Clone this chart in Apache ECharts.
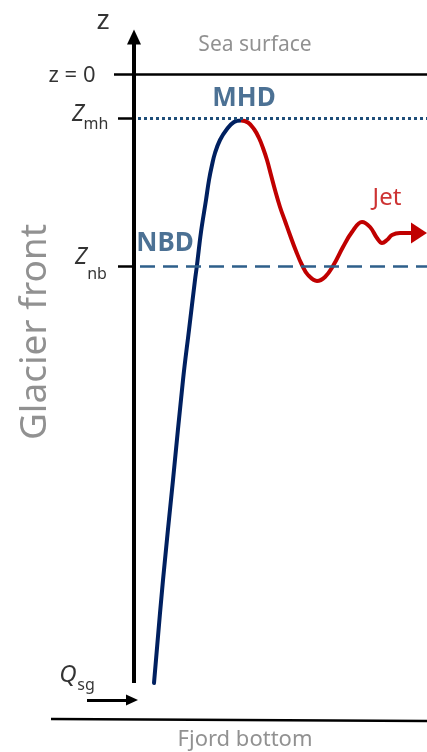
<!DOCTYPE html>
<html><head><meta charset="utf-8">
<script src="https://cdn.jsdelivr.net/npm/echarts@6/dist/echarts.min.js"></script>
<style>html,body{margin:0;padding:0;background:#fff}#c{width:427px;height:752px}</style>
</head><body><div id="c"></div>
<script>
// Coordinate system: x = horizontal distance from the glacier front, z = height relative to the sea surface
const xRange = [-134, 293];
const zRange = [-678, 74];
const zSurface = 0;
const zMh = -44;           // maximum height depth
const zNb = -192;          // neutral buoyancy depth
const frontZ = [-609, 37]; // glacier front / z axis extent
const bottomX = [-83, 293];
const bottomZ = [-645, -647];
// Rising plume (blue) up to the maximum height
const plumeX = [20, 29, 39, 49, 55, 61, 63, 67, 72, 75, 78, 81, 86, 93, 100, 107];
const plumeZ = [-609, -506, -406, -306, -256, -206, -191, -158, -126, -106, -91, -79, -66, -55, -48, -46.5];
// Outflowing jet (red) after the maximum height
const jetX = [114, 120, 125, 129, 133, 137, 141, 146, 151, 156, 162, 168, 174, 183, 191, 199, 209, 218, 228, 236, 243, 248, 253, 258, 266, 278];
const jetZ = [-48.5, -55, -64, -74, -86, -101, -116, -133, -147, -161, -177, -191, -201, -207, -203, -192, -173, -158, -148, -153, -164, -169, -166, -161, -159, -159];
const qsgX = [-47, -2];
const qsgZ = -626;

const FONT = 'Noto Sans';
const GRAY = '#767676', NAVY = '#002060', BLUE = '#1f4e79', RED = '#c00000';

const curve = plumeX.map((x, i) => [x, plumeZ[i]]).concat(jetX.map((x, i) => [x, jetZ[i]]));
const peakX = plumeX[plumeX.length - 1];

function seg(a, b, style, endSymbol, endSize) {
  return [
    { coord: a, symbol: 'none', lineStyle: style },
    { coord: b, symbol: endSymbol || 'none', symbolSize: endSize || 0 }
  ];
}
const black = (w) => ({ color: '#000', width: w, type: 'solid', cap: 'butt' });
const xEnd = xRange[1];
const jetEndZ = jetZ[jetZ.length - 1];
const lines = [
  seg([0, frontZ[0]], [0, frontZ[1]], black(4), 'triangle', [14, 15]),
  seg([-20, zSurface], [xEnd, zSurface], black(2.5)),
  seg([-16, zMh], [0, zMh], black(2.5)),
  seg([4, zMh], [xEnd, zMh], { color: BLUE, width: 3, type: [3, 3], cap: 'butt' }),
  seg([-16, zNb], [0, zNb], black(2.5)),
  seg([6, zNb], [xEnd, zNb], { color: '#2e5f8a', width: 2.5, type: [15, 8], cap: 'butt' }),
  seg([jetX[jetX.length - 1] - 2, jetEndZ], [xEnd - 8, jetEndZ], { color: RED, width: 4, type: 'solid' }, 'triangle', [21, 16]),
  seg([qsgX[0], qsgZ], [qsgX[1], qsgZ], black(3), 'triangle', [11, 12]),
  seg([bottomX[0], bottomZ[0]], [bottomX[1], bottomZ[1]], black(2.5))
];

const texts = [
  { t: 'z', at: [-31, 53], s: 28, c: '#000' },
  { t: 'Sea surface', at: [121, 29], s: 21, c: GRAY },
  { t: 'z = 0', at: [-62, -2], s: 22, c: '#000' },
  { t: 'Z', at: [-56, zMh + 4], s: 23, c: '#000', i: true },
  { t: 'mh', at: [-38, zMh - 6], s: 16, c: '#000' },
  { t: 'MHD', at: [110, -25], s: 26, c: BLUE, b: true },
  { t: 'NBD', at: [31, -170], s: 26, c: BLUE, b: true },
  { t: 'Z', at: [-53, zNb + 9], s: 23, c: '#000', i: true },
  { t: 'nb', at: [-37, zNb - 8], s: 16, c: '#000' },
  { t: 'Jet', at: [253, -124], s: 24, c: RED },
  { t: 'Glacier front', at: [-99, -258], s: 37, c: GRAY, r: 90 },
  { t: 'Q', at: [-66, -601], s: 24, c: '#000', i: true },
  { t: 'sg', at: [-48, -611], s: 16, c: '#000' },
  { t: 'Fjord bottom', at: [111, -666], s: 22, c: GRAY }
];

const chart = echarts.init(document.getElementById('c'));
chart.setOption({
  animation: false,
  grid: { left: 0, right: 0, top: 0, bottom: 0 },
  xAxis: { type: 'value', min: xRange[0], max: xRange[1], show: false },
  yAxis: { type: 'value', min: zRange[0], max: zRange[1], show: false },
  visualMap: {
    show: false, type: 'piecewise', seriesIndex: 0, dimension: 0,
    pieces: [{ gte: xRange[0], lte: peakX, color: NAVY }, { gt: peakX, lte: xRange[1], color: RED }]
  },
  series: [
    {
      type: 'line', data: curve, smooth: 0.4, showSymbol: false,
      symbol: 'none', lineStyle: { width: 4, cap: 'round', join: 'round' }, silent: true, z: 3
    },
    {
      type: 'line', data: [], silent: true, z: 2,
      markLine: { silent: true, animation: false, label: { show: false }, emphasis: { disabled: true }, data: lines }
    },
    {
      type: 'scatter', silent: true, symbolSize: 1, itemStyle: { color: 'rgba(0,0,0,0)' }, z: 4,
      data: texts.map(d => ({
        value: d.at,
        label: {
          show: true, position: 'inside', formatter: d.t, color: d.c, fontSize: d.s,
          fontFamily: FONT, fontStyle: d.i ? 'italic' : 'normal', fontWeight: d.b ? 'bold' : 'normal',
          rotate: d.r || 0
        }
      }))
    }
  ]
});
</script></body></html>
